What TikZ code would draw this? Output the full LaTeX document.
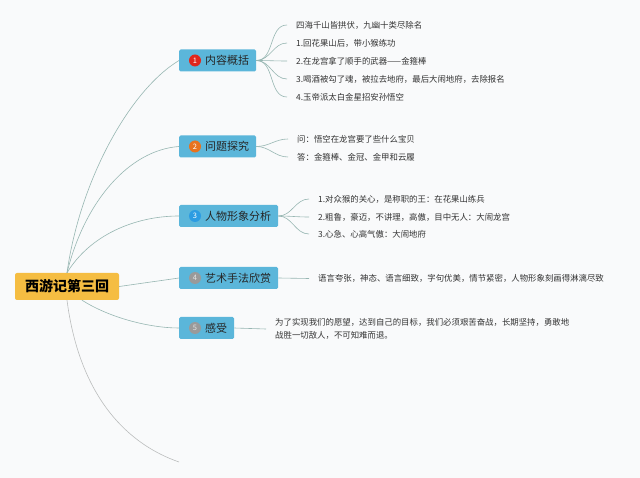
\documentclass[tikz,border=0pt]{standalone}
\usepackage{fontspec}
\setmainfont{Noto Sans CJK SC}
\usetikzlibrary{positioning}
\definecolor{xybg}{HTML}{F9FAFB}
\definecolor{xyroot}{HTML}{F5BD42}
\definecolor{xytopic}{HTML}{5BB6DA}
\definecolor{xyline}{HTML}{97B6B2}
\definecolor{xytail}{HTML}{BBBDBD}
\definecolor{xyred}{HTML}{E0261C}
\definecolor{xyorange}{HTML}{E8731E}
\definecolor{xyblue}{HTML}{2C9CE2}
\definecolor{xygrey}{HTML}{9A9A9A}
\definecolor{xytext}{HTML}{333333}

\begin{document}
\begin{tikzpicture}[x=1pt, y=-1pt,
    root/.style={fill=xyroot, rounded corners=2pt, minimum width=104pt,
                 minimum height=27pt, font=\fontsize{14}{15}\selectfont\bfseries},
    topic/.style={fill=xytopic, rounded corners=1.5pt, anchor=west, minimum height=22pt,
                  inner xsep=7pt, text=black!85, font=\fontsize{11}{12}\selectfont},
    badge/.style={circle, fill=#1, inner sep=0pt, minimum size=12pt, text=white,
                  font=\fontsize{7.5}{8}\selectfont},
    leaf/.style={anchor=west, inner xsep=9pt, inner ysep=1pt, text=xytext,
                 align=left, font=\fontsize{8.4}{13}\selectfont},
    branch/.style={xyline, line width=0.6pt},
]
    \fill[xybg] (0,0) rectangle (640,478);

    % centre
    \node[root] (root) at (67,286.5) {西游记第三回};

    % main topics
    \node[topic] (t1) at (179,60.5) {\hspace{19pt}内容概括};
    \node[topic] (t2) at (179,146.5) {\hspace{19pt}问题探究};
    \node[topic] (t3) at (179,216) {\hspace{19pt}人物形象分析};
    \node[topic] (t4) at (179,278) {\hspace{19pt}艺术手法欣赏};
    \node[topic] (t5) at (179,328) {\hspace{19pt}感受};
    \coordinate (tail) at (179,462);

    \node[badge=xyred] (n1) at ([xshift=16pt]t1.west) {1};
    \node[badge=xyorange] (n2) at ([xshift=16pt]t2.west) {2};
    \node[badge=xyblue] (n3) at ([xshift=16pt]t3.west) {3};
    \node[badge=xygrey, text=white!75!xygrey] (n4) at ([xshift=16pt]t4.west) {4};
    \node[badge=xygrey, text=white!75!xygrey] (n5) at ([xshift=16pt]t5.west) {5};

    \draw[branch] (root.north) .. controls (80,180) and (130,90) .. (t1.west);
    \draw[branch] (root.north) .. controls (85,200) and (130,150) .. (t2.west);
    \draw[branch] (root.north) .. controls (90,235) and (135,216) .. (t3.west);
    \draw[branch] (root.east) -- (t4.west);
    \draw[branch] ([xshift=15pt]root.south) .. controls (110,318) and (150,328) .. (t5.west);
    \draw[xytail, line width=0.6pt] (root.south) .. controls (80,400) and (130,445) .. (tail);

    % leaves of topic 1
    \node[leaf] (l11) at (287,25) {四海千山皆拱伏，九幽十类尽除名};
    \node[leaf] (l12) at (287,43) {1.回花果山后，带小猴练功};
    \node[leaf] (l13) at (287,61) {2.在龙宫拿了顺手的武器——金箍棒};
    \node[leaf] (l14) at (287,79) {3.喝酒被勾了魂，被拉去地府，最后大闹地府，去除报名};
    \node[leaf] (l15) at (287,97) {4.玉帝派太白金星招安孙悟空};
    \draw[branch] (t1.east) to[out=0, in=180] (l11.west);
    \draw[branch] (t1.east) to[out=0, in=180] (l12.west);
    \draw[branch] (t1.east) to[out=0, in=180] (l13.west);
    \draw[branch] (t1.east) to[out=0, in=180] (l14.west);
    \draw[branch] (t1.east) to[out=0, in=180] (l15.west);

    % leaves of topic 2
    \node[leaf] (l21) at (288,139) {问：悟空在龙宫要了些什么宝贝};
    \node[leaf] (l22) at (288,157) {答：金箍棒、金冠、金甲和云履};
    \draw[branch] (t2.east) to[out=0, in=180] (l21.west);
    \draw[branch] (t2.east) to[out=0, in=180] (l22.west);

    % leaves of topic 3
    \node[leaf] (l31) at (309,199) {1.对众猴的关心，是称职的王：在花果山练兵};
    \node[leaf] (l32) at (309,217) {2.粗鲁，豪迈，不讲理，高傲，目中无人：大闹龙宫};
    \node[leaf] (l33) at (309,234) {3.心急、心高气傲：大闹地府};
    \draw[branch] (t3.east) to[out=0, in=180] (l31.west);
    \draw[branch] (t3.east) to[out=0, in=180] (l32.west);
    \draw[branch] (t3.east) to[out=0, in=180] (l33.west);

    % leaves of topic 4 and 5
    \node[leaf] (l41) at (309,278.5) {语言夸张，神态、语言细致，字句优美，情节紧密，人物形象刻画得淋漓尽致};
    \draw[branch] (t4.east) -- (l41.west);
    \node[leaf] (l51) at (266,329) {为了实现我们的愿望，达到自己的目标，我们必须艰苦奋战，长期坚持，勇敢地\\战胜一切敌人，不可知难而退。};
    \draw[branch] (t5.east) -- (l51.west);
\end{tikzpicture}
\end{document}
